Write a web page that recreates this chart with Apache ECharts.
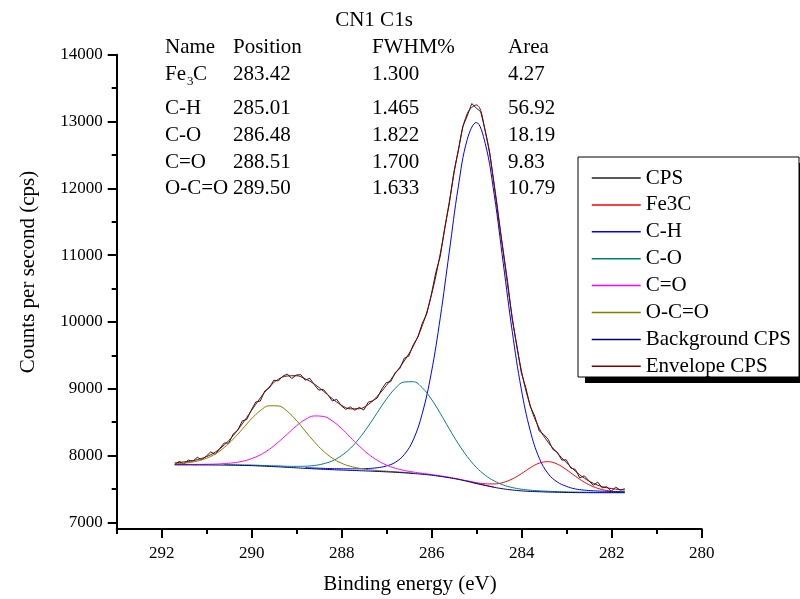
<!DOCTYPE html>
<html><head><meta charset="utf-8">
<script src="https://cdn.jsdelivr.net/npm/echarts@6/dist/echarts.min.js"></script>
<style>html,body{margin:0;padding:0;background:#fff}#c{width:800px;height:599px}</style>
</head><body><div id="c"></div>
<script>
// ---------- data ----------
const energyRaw = [291.71,291.61,291.51,291.41,291.31,291.21,291.11,291.01,290.91,290.81,
290.71,290.61,290.51,290.41,290.31,290.21,290.11,290.01,289.91,289.81,
289.71,289.61,289.51,289.41,289.31,289.21,289.11,289.01,288.91,288.81,
288.71,288.61,288.51,288.41,288.31,288.21,288.11,288.01,287.91,287.81,
287.71,287.61,287.51,287.41,287.31,287.21,287.11,287.01,286.91,286.81,
286.71,286.61,286.51,286.41,286.31,286.21,286.11,286.01,285.91,285.81,
285.71,285.61,285.51,285.41,285.31,285.21,285.11,285.01,284.91,284.81,
284.71,284.61,284.51,284.41,284.31,284.21,284.11,284.01,283.91,283.81,
283.71,283.61,283.51,283.41,283.31,283.21,283.11,283.01,282.91,282.81,
282.71,282.61,282.51,282.41,282.31,282.21,282.11,282.01,281.91,281.81,
281.71];
const cpsRaw = [7865,7912,7874,7932,7914,7973,7938,7992,8054,8016,
8106,8188,8186,8324,8379,8519,8540,8679,8802,8816,
8966,9010,9128,9116,9187,9221,9153,9205,9211,9128,
9157,9061,8980,8991,8913,8817,8841,8746,8692,8729,
8679,8721,8681,8799,8820,8862,8995,9092,9106,9244,
9300,9457,9487,9658,9770,9979,10120,10407,10740,10982,
11410,11768,12235,12556,12926,13085,13270,13204,13146,12861,
12533,12034,11525,11064,10585,10036,9655,9243,9020,8736,
8590,8367,8315,8242,8093,8050,7932,7936,7813,7793,
7666,7697,7625,7555,7602,7515,7534,7466,7527,7480,
7504];

const energyFit = [291.71,291.61,291.41,291.21,291.01,290.81,290.61,290.41,290.21,290.01,
289.81,289.61,289.41,289.21,289.01,288.81,288.61,288.41,288.21,288.01,
287.81,287.61,287.41,287.21,287.01,286.81,286.61,286.41,286.21,286.01,
285.81,285.61,285.41,285.21,285.01,284.81,284.61,284.41,284.21,284.01,
283.81,283.61,283.41,283.21,283.01,282.81,282.61,282.41,282.21,282.01,
281.81,281.71];
const fe3c = [null,null,null,null,null,null,null,null,null,null,
null,null,null,null,null,null,null,null,null,null,
null,null,null,null,null,null,null,null,null,null,
null,null,null,7622,7594,7577,7575,7597,7649,7727,
7816,7886,7908,7872,7790,7692,7602,7534,7490,7467,
7455,7452];
const cH = [null,null,null,null,null,null,null,null,null,null,
null,null,null,null,null,7818,7813,7808,7804,7802,
7801,7801,7806,7817,7843,7898,8014,8234,8628,9233,
10062,11045,12021,12733,12986,12671,11902,10879,9858,8998,
8371,7961,7726,7604,7540,7500,7482,7472,7466,7461,
7458,7457];
const cO = [null,null,null,null,null,null,7864,7862,7860,7858,
7853,7848,7845,7839,7838,7840,7851,7876,7920,7996,
8106,8256,8439,8642,8841,9005,9101,9105,9015,8847,
8632,8400,8178,7984,7824,7705,7619,7559,7521,7496,
7481,7472,7465,7460,7456,7453,7451,7450,7449,7449,
7448,7448];
const cdO = [7866,7866,7867,7867,7869,7872,7879,7891,7913,7952,
8010,8092,8200,8320,8442,8539,8593,8586,8519,8409,
8275,8142,8023,7929,7859,7810,7777,7753,7734,7716,
7696,7674,7649,7619,7585,7556,7527,null,null,null,
null,null,null,null,null,null,null,null,null,null,
null,null];
const oCdO = [7877,7880,7893,7917,7958,8023,8120,8246,8394,8546,
8672,8745,8743,8662,8529,8366,8207,8068,7962,7887,
7839,7809,7789,7776,7766,7758,7748,7737,null,null,
null,null,null,null,null,null,null,null,null,null,
null,null,null,null,null,null,null,null,null,null,
null,null];
const background = [7860,7860,7860,7859,7859,7858,7857,7855,7852,7849,
7843,7837,7831,7823,7816,7808,7801,7794,7788,7783,
7778,7773,7768,7762,7756,7749,7741,7731,7720,7706,
7688,7667,7643,7614,7581,7552,7524,7501,7484,7471,
7463,7458,7453,7450,7447,7445,7444,7443,7443,7443,
7443,7443];
const envelope = [7890,7897,7912,7938,7982,8051,8158,8299,8474,8669,
8861,9025,9141,9191,9195,9148,9071,8966,8852,8756,
8699,8701,8764,8887,9047,9229,9417,9638,9944,10392,
11022,11793,12571,13120,13249,12856,12054,11039,10066,9283,
8746,8407,8197,8040,7896,7768,7662,7585,7535,7506,
7490,7484];

const xMajor = [280,282,284,286,288,290,292];
const xMinor = [281,283,285,287,289,291,293];
const yMajor = [7000,8000,9000,10000,11000,12000,13000,14000];
const yMinor = [7500,8500,9500,10500,11500,12500,13500];

const legendNames = ['CPS','Fe3C','C-H','C-O','C=O','O-C=O','Background CPS','Envelope CPS'];
const lineColors = ['#222222','#ff0000','#0000ff','#008080','#ff00ff','#808000','#000080','#800000'];

const chartTitle = 'CN1 C1s';
const tableHeader = ['Name','Position','FWHM%','Area'];
const tableNames = ['Fe3C','C-H','C-O','C=O','O-C=O'];
const tablePos = ['283.42','285.01','286.48','288.51','289.50'];
const tableFwhm = ['1.300','1.465','1.822','1.700','1.633'];
const tableArea = ['4.27','56.92','18.19','9.83','10.79'];
const xTitle = 'Binding energy (eV)';
const yTitle = 'Counts per second (cps)';

// ---------- build ----------
const FONT = '"Liberation Serif","Times New Roman",serif';
function pairs(xs, ys){ const out=[]; for(let i=0;i<xs.length;i++){ if(ys[i]!==null) out.push([xs[i], ys[i]]); } return out; }

const seriesData = [
  pairs(energyRaw, cpsRaw), pairs(energyFit, fe3c), pairs(energyFit, cH), pairs(energyFit, cO),
  pairs(energyFit, cdO), pairs(energyFit, oCdO), pairs(energyFit, background), pairs(energyFit, envelope)
];
const series = legendNames.map((n, i) => ({
  name: n, type: 'line', xAxisIndex: 0, yAxisIndex: 0,
  data: seriesData[i], symbol: 'none', smooth: i === 0 ? false : 0.4,
  lineStyle: { color: lineColors[i], width: 1 }, itemStyle: { color: lineColors[i] },
  emphasis: { disabled: true }, silent: true
}));

const graphic = [];
const txt = (text, x, y, size, align, extra) => Object.assign({
  type: 'text', z: 20,
  style: { text: text, x: x, y: y, font: size + 'px ' + FONT, fill: '#000', align: align || 'left', verticalAlign: 'middle' }
}, extra || {});
graphic.push(txt(chartTitle, 374, 20, 21, 'center'));
const colX = [165, 233, 372, 508];
tableHeader.forEach((h, j) => graphic.push(txt(h, colX[j], 47, 21)));
const rowY = [74, 108, 135, 162, 188];
tableNames.forEach((n, r) => {
  if (n === 'Fe3C') {
    graphic.push(txt('Fe', colX[0], rowY[r], 21));
    graphic.push(txt('3', colX[0] + 22, rowY[r] + 8, 13));
    graphic.push(txt('C', colX[0] + 28, rowY[r], 21));
  } else {
    graphic.push(txt(n, colX[0], rowY[r], 21));
  }
  graphic.push(txt(tablePos[r], colX[1], rowY[r], 21));
  graphic.push(txt(tableFwhm[r], colX[2], rowY[r], 21));
  graphic.push(txt(tableArea[r], colX[3], rowY[r], 21));
});
graphic.push(txt(xTitle, 410, 584, 21, 'center'));
const yt = txt(yTitle, 0, 0, 21, 'center');
yt.x = 28; yt.y = 272; yt.rotation = Math.PI / 2;
graphic.push(yt);
// legend frame with shadow
graphic.push({ type: 'rect', z: 3, shape: { x: 585, y: 163, width: 221, height: 220 }, style: { fill: '#000' } });
graphic.push({ type: 'rect', z: 3, shape: { x: 578, y: 157, width: 221, height: 220 }, style: { fill: '#fff', stroke: '#000', lineWidth: 1 } });

const axisBase = (isX, major) => ({
  type: 'value', inverse: isX, min: isX ? 280 : 6900, max: isX ? 293 : 14000,
  position: isX ? 'bottom' : 'left',
  axisLine: { show: major, onZero: false, lineStyle: { color: '#000', width: 2 } },
  axisTick: { show: true, inside: false, length: major ? 9 : 5,
    customValues: isX ? (major ? xMajor : xMinor) : (major ? yMajor : yMinor),
    lineStyle: { color: '#000', width: 2 } },
  axisLabel: major ? { show: true, customValues: isX ? xMajor : yMajor, margin: isX ? 16 : 14,
    color: '#000', fontFamily: FONT, fontSize: 17, formatter: v => String(v) } : { show: false },
  splitLine: { show: false }, minorTick: { show: false }
});

const chart = echarts.init(document.getElementById('c'), null, { renderer: 'canvas', width: 800, height: 599 });
chart.setOption({
  animation: false,
  backgroundColor: '#fff',
  grid: { left: 116.7, right: 98.3, top: 54.8, bottom: 70, containLabel: false },
  xAxis: [axisBase(true, true), axisBase(true, false)],
  yAxis: [axisBase(false, true), axisBase(false, false)],
  legend: {
    orient: 'vertical', left: 591, top: 167.5, itemWidth: 49, itemHeight: 14, itemGap: 5.9,
    padding: 0, selectedMode: false, z: 10, data: legendNames,
    itemStyle: { opacity: 0 },
    lineStyle: { width: 1.5 },
    textStyle: { fontFamily: FONT, fontSize: 21, color: '#000', lineHeight: 20 }
  },
  graphic: graphic,
  series: series
});
</script></body></html>
